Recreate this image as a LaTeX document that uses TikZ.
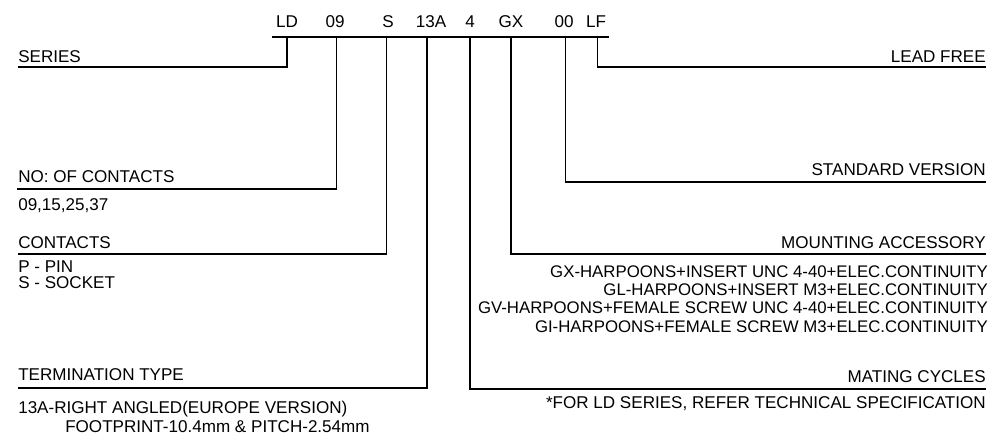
\documentclass[tikz,border=0pt]{standalone}
\usepackage{fontspec}
\setmainfont{Liberation Sans}
\usetikzlibrary{positioning}

\begin{document}
\begin{tikzpicture}[
    x=0.75pt, y=-0.75pt,
    code/.style={font=\fontsize{12.8}{15}\selectfont, inner sep=0pt, anchor=base},
    lbl/.style={font=\fontsize{12.8}{15}\selectfont, inner sep=0pt, anchor=base west},
    rlbl/.style={font=\fontsize{12.8}{15}\selectfont, inner sep=0pt, anchor=base east},
    opt/.style={rlbl, font=\fontsize{12.6}{15}\selectfont},
    lead/.style={line width=1.1pt}
]
    \useasboundingbox (0,0) rectangle (989,440);

    % Part number code
    \node[code] (ld)  at (287,27) {LD};
    \node[code] (c09) at (335,27) {09};
    \node[code] (s)   at (388,27) {S};
    \node[code] (t13) at (431,27) {13A};
    \node[code] (m4)  at (470,27) {4};
    \node[code] (gx)  at (511,27) {GX};
    \node[code] (c00) at (564,27) {00};
    \node[code] (lf)  at (596,27) {LF};

    \coordinate (bar-l) at (272,37);
    \coordinate (bar-r) at (609,37);
    \draw[lead] (bar-l) -- (bar-r);

    % Left labels
    \node[lbl] (series) at (18,62) {SERIES};
    \node[lbl] (contacts-no) at (18,182) {NO: OF CONTACTS};
    \node[lbl] (contacts-no-desc) at (18,210) {09,15,25,37};
    \node[lbl] (contacts) at (18,248) {CONTACTS};
    \node[lbl] (pin) at (18,272) {P - PIN};
    \node[lbl] (socket) at (18,288) {S - SOCKET};
    \node[lbl] (term) at (18,380) {TERMINATION TYPE};
    \node[lbl] (term-desc) at (18,413) {13A-RIGHT ANGLED(EUROPE VERSION)};
    \node[lbl] (footprint) at (65,432) {FOOTPRINT-10.4mm \& PITCH-2.54mm};

    \coordinate (series-l) at (18,67);
    \coordinate (contacts-no-l) at (17,189);
    \coordinate (contacts-l) at (18,254);
    \coordinate (term-l) at (18,388);

    % Right labels
    \node[rlbl] (lead-free) at (986,62) {LEAD FREE};
    \node[rlbl] (std) at (986,175) {STANDARD VERSION};
    \node[rlbl] (mount) at (986,248) {MOUNTING ACCESSORY};
    \node[opt] (gx-desc) at (988,277) {GX-HARPOONS+INSERT UNC 4-40+ELEC.CONTINUITY};
    \node[opt] (gl-desc) at (988,295) {GL-HARPOONS+INSERT M3+ELEC.CONTINUITY};
    \node[opt] (gv-desc) at (988,313) {GV-HARPOONS+FEMALE SCREW UNC 4-40+ELEC.CONTINUITY};
    \node[opt] (gi-desc) at (988,332) {GI-HARPOONS+FEMALE SCREW M3+ELEC.CONTINUITY};
    \node[rlbl] (mating) at (986,382) {MATING CYCLES};
    \node[rlbl] (mating-desc) at (986,408) {*FOR LD SERIES, REFER TECHNICAL SPECIFICATION};

    \coordinate (lead-free-r) at (986,67);
    \coordinate (std-r) at (986,182);
    \coordinate (mount-r) at (986,254);
    \coordinate (mating-r) at (986,389);

    % Leaders
    \draw[lead] (ld |- bar-l) |- (series-l);
    \draw[lead] ([xshift=1pt]c09.south |- bar-l) |- (contacts-no-l);
    \draw[lead] ([xshift=-1pt]s.south |- bar-l) |- (contacts-l);
    \draw[lead] ([xshift=-3pt]t13.south |- bar-l) |- (term-l);
    \draw[lead] (m4 |- bar-l) |- (mating-r);
    \draw[lead] (gx |- bar-l) |- (mount-r);
    \draw[lead] ([xshift=1pt]c00.south |- bar-l) |- (std-r);
    \draw[lead] ([xshift=1pt]lf.south |- bar-l) |- (lead-free-r);

\end{tikzpicture}
\end{document}
